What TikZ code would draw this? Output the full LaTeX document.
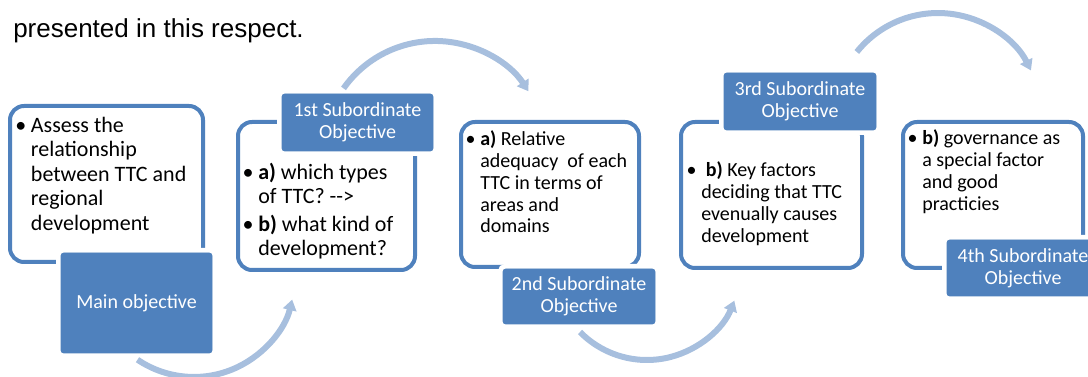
\documentclass[tikz,border=0pt]{standalone}
\usepackage{fontspec}
\setmainfont{Carlito}
\newfontfamily\headfont{Liberation Sans}
\usetikzlibrary{arrows.meta}
\definecolor{accent}{RGB}{79,129,189}
\definecolor{flow}{RGB}{167,191,222}

\tikzset{
  outbox/.style={draw=accent, line width=3pt, fill=white, rounded corners=10.5pt, inner sep=0pt},
  tagbox/.style={preaction={draw=white, line width=7.5pt}, fill=accent, draw=accent,
    line width=0.5pt, rounded corners=2pt, text=white, align=center,
    font=\fontsize{15}{16.5}\selectfont, inner sep=0pt},
  flowarrow/.style={draw=flow, line width=4.5pt, -{Triangle[width=10pt,length=8pt]}},
  % multi-line texts are placed by the baseline of their last line
  bigtext/.style={anchor=base west, inner sep=0pt, align=left, font=\fontsize{16.5}{18.3}\selectfont},
  smalltext/.style={anchor=base west, inner sep=0pt, align=left, font=\fontsize{15}{16.3}\selectfont},
}
\newcommand{\blt}{\llap{\textbullet\hspace{3.5pt}}}

\begin{document}
\begin{tikzpicture}[x=0.75pt, y=-0.75pt]
\useasboundingbox (0,0) rectangle (1088,377);
\clip (0,0) rectangle (1088,377);

% heading line
\node[anchor=base west, inner sep=0pt, font=\headfont\fontsize{19.5}{23}\selectfont]
  (intro) at (13,38) {presented in this respect.};

% outlined content boxes
\node[outbox, minimum width=144.75pt, minimum height=117pt]  (b0) at (106.5,184) {};
\node[outbox, minimum width=132.75pt, minimum height=111pt]  (b1) at (326.5,196) {};
\node[outbox, minimum width=133.5pt,  minimum height=108.75pt] (b2) at (550,194.5) {};
\node[outbox, minimum width=135.75pt, minimum height=109.5pt] (b3) at (771.5,195) {};
\node[outbox, minimum width=135pt,    minimum height=109.5pt] (b4) at (993,195) {};

% filled title tabs
\node[tagbox, minimum width=113.25pt, minimum height=75pt]    (t0) at (136.5,303) {Main objective};
\node[tagbox, minimum width=113.25pt, minimum height=42.75pt] (t1) at (357.5,122.5) {1st Subordinate\\Objective};
\node[tagbox, minimum width=114pt,    minimum height=41.25pt] (t2) at (579,296.5) {2nd Subordinate\\Objective};
\node[tagbox, minimum width=114pt,    minimum height=42.75pt] (t3) at (800,101.5) {3rd Subordinate\\Objective};
\node[tagbox, minimum width=114pt,    minimum height=42pt]    (t4) at (1023,268) {4th Subordinate\\Objective};

% box texts
\node[bigtext] (x0) at (30.7,230.2) {\blt Assess the\\relationship\\between TTC and\\regional\\development};
\node[bigtext] (x1) at (258,255.7) {\blt\textbf{a)} which types\\of TTC? -{}-{}>\\[2.6pt]\blt\textbf{b)} what kind of\\development?};
\node[smalltext] (x2) at (480,232.8) {\blt\textbf{a)} Relative\\adequacy\ \ of each\\TTC in terms of\\areas and\\domains};
\node[smalltext] (x3) at (701,242.1) {\blt\ \textbf{b)} Key factors\\deciding that TTC\\evenually causes\\development};
\node[smalltext] (x4) at (922,210.1) {\blt\textbf{b)} governance as\\a special factor\\and good\\practicies};

% curved flow arrows between the stages
\coordinate (a0) at (137.5,359.7);
\coordinate (a1) at (343.5,88.4);
\coordinate (a2) at (580,332);
\coordinate (a3) at (856.8,52);
\draw[flowarrow] (a0) arc[start angle=124, end angle=13.5, radius=101];
\draw[flowarrow] (a1) arc[start angle=215.2, end angle=326.6, radius=112];
\draw[flowarrow] (a2) arc[start angle=135.4, end angle=21.6, radius=94];
\draw[flowarrow] (a3) arc[start angle=218.7, end angle=333.4, radius=104];
\end{tikzpicture}
\end{document}
